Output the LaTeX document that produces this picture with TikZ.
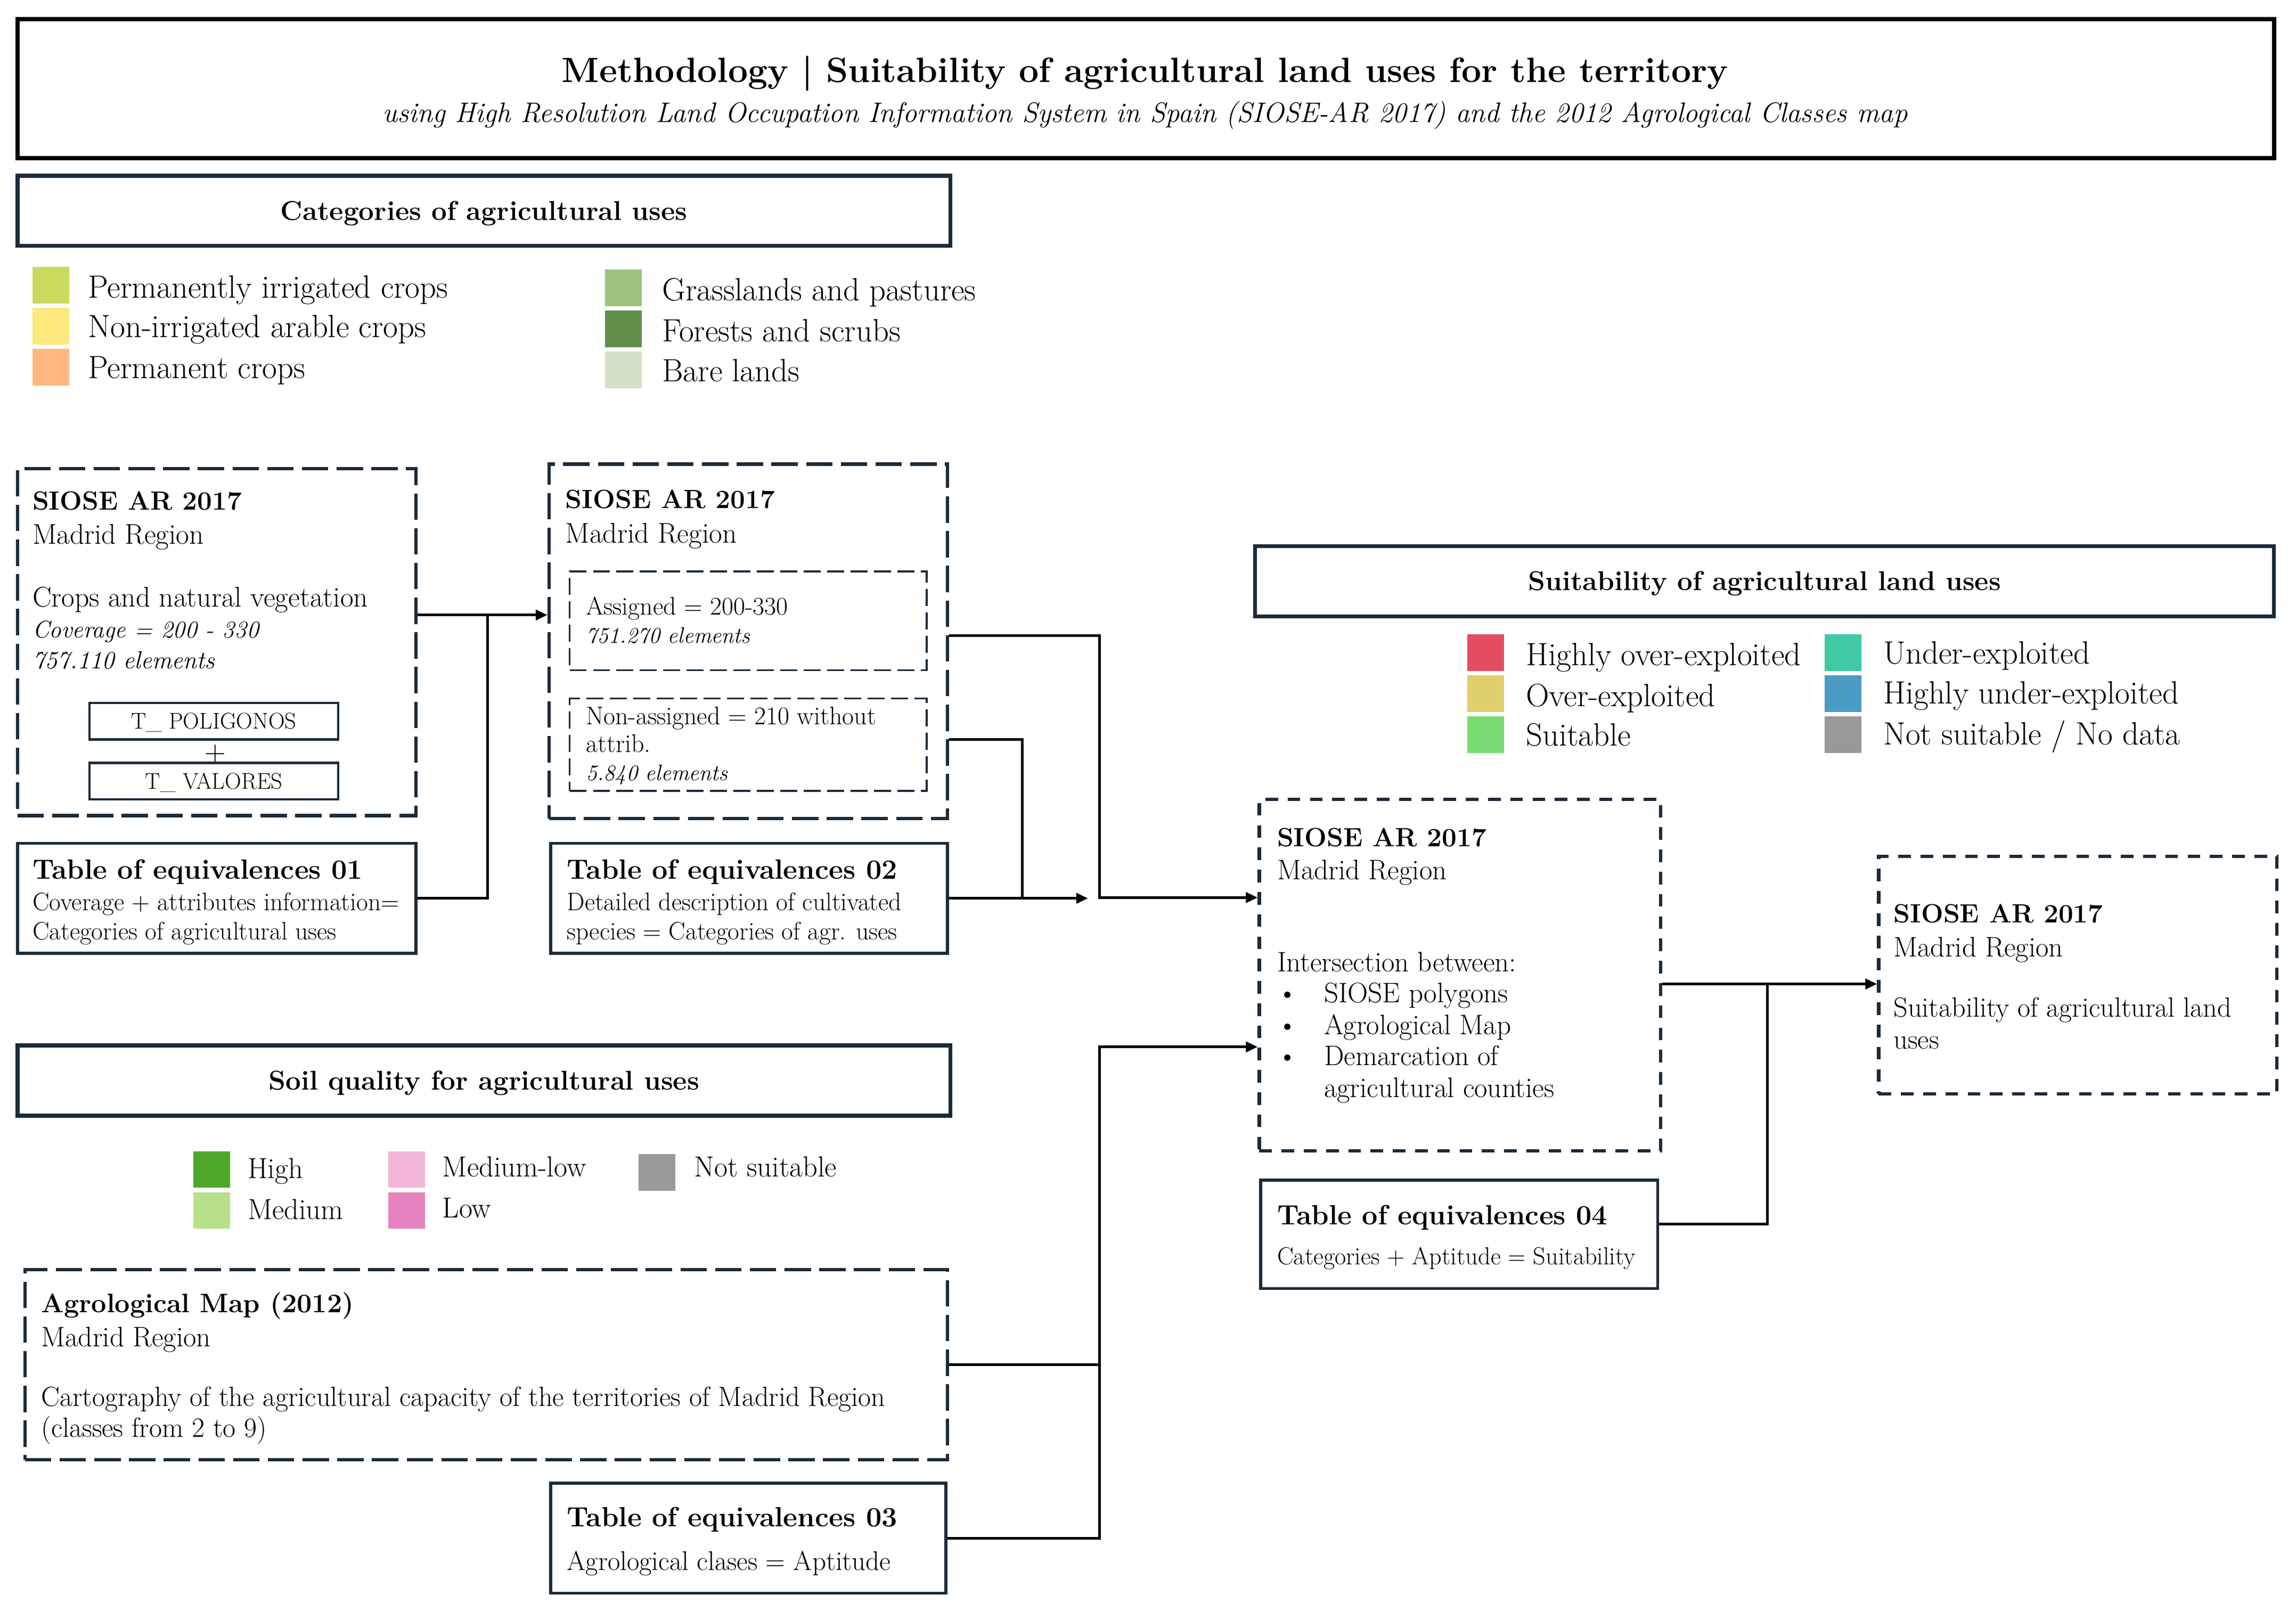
\documentclass[tikz,border=0pt]{standalone}
\usetikzlibrary{arrows.meta,calc}
\definecolor{navy}{HTML}{1B2B3A}
\definecolor{cPI}{HTML}{C9DA5E}
\definecolor{cNI}{HTML}{FDE97C}
\definecolor{cPC}{HTML}{FCB87F}
\definecolor{cGP}{HTML}{A0C27F}
\definecolor{cFS}{HTML}{5F8F49}
\definecolor{cBL}{HTML}{D5E0C8}
\definecolor{cHO}{HTML}{E34C63}
\definecolor{cOE}{HTML}{DDD06B}
\definecolor{cSU}{HTML}{7BDB72}
\definecolor{cUE}{HTML}{40C9A2}
\definecolor{cHU}{HTML}{4A9CC5}
\definecolor{cNS}{HTML}{999999}
\definecolor{cHI}{HTML}{4DA82A}
\definecolor{cME}{HTML}{B8E08A}
\definecolor{cML}{HTML}{F1B6DA}
\definecolor{cLO}{HTML}{E681BF}
\newcommand{\setfs}[1]{\fontsize{#1}{#1}\selectfont}
\tikzset{
  txt/.style={anchor=base west, inner sep=0pt, font=\setfs{#1}, yshift={-0.34*#1pt}},
  txtb/.style={anchor=base west, inner sep=0pt, font=\setfs{#1}\bfseries, yshift={-0.34*#1pt}},
  txti/.style={anchor=base west, inner sep=0pt, font=\setfs{#1}\itshape, yshift={-0.34*#1pt}},
  txtc/.style={anchor=base, inner sep=0pt, font=\setfs{#1}, yshift={-0.34*#1pt}},
  dbox/.style={draw=navy, line width=2.3pt, dash pattern=on 18pt off 5.7pt, inner sep=0pt},
  dboxs/.style={draw=navy, line width=2.2pt, dash pattern=on 8.6pt off 6.6pt, inner sep=0pt},
  ibox/.style={draw=navy, line width=1.4pt, dash pattern=on 11.5pt off 4.5pt, inner sep=0pt},
  sbox/.style={draw=navy, line width=2pt, inner sep=0pt},
  hbox/.style={draw=navy, line width=2.6pt, inner sep=0pt},
  conn/.style={line width=1.8pt, draw=black},
  arr/.style={conn, -{Triangle[length=8pt,width=7pt]}},
  sq/.style={minimum width=25pt, minimum height=25pt, inner sep=0pt, anchor=north west, fill=#1}
}
\begin{document}
\begin{tikzpicture}[x=1pt,y=-1pt]
\useasboundingbox[fill=white] (0,0) rectangle (1568,1100);

% Title
\node[draw=black, line width=3pt, minimum width=1541pt, minimum height=95pt] (title) at (782.5,60.5) {};
\node[txtc=24, font=\setfs{24}\bfseries] (tt) at (782,48) {Methodology \textbar\ Suitability of agricultural land uses for the territory};
\node[txtc=19.2, font=\setfs{19.2}\itshape] (ts) at (782,77) {using High Resolution Land Occupation Information System in Spain (SIOSE-AR 2017) and the 2012 Agrological Classes map};

% Categories header and legend
\node[hbox, minimum width=637pt, minimum height=48pt] (hcat) at (330.5,144) {};
\node[txtc=18.6, font=\setfs{18.6}\bfseries] (hcatt) at (330.5,144) {Categories of agricultural uses};
\node[sq=cPI] (q1) at (22,182) {};
\node[sq=cNI] (q2) at (22,210) {};
\node[sq=cPC] (q3) at (22,238) {};
\node[sq=cGP] (q4) at (413,184) {};
\node[sq=cFS] (q5) at (413,212) {};
\node[sq=cBL] (q6) at (413,240) {};
\node[txt=22] (l1) at (60,196) {Permanently irrigated crops};
\node[txt=22] (l2) at (60,223) {Non-irrigated arable crops};
\node[txt=22] (l3) at (60,251) {Permanent crops};
\node[txt=22] (l4) at (452,198) {Grasslands and pastures};
\node[txt=22] (l5) at (452,226) {Forests and scrubs};
\node[txt=22] (l6) at (452,253) {Bare lands};

% SIOSE box 1
\node[dbox, minimum width=272pt, minimum height=237pt] (s1) at (148,438.5) {};
\node[txtb=18] (s1a) at (22,342) {SIOSE AR 2017};
\node[txt=19.5] (s1b) at (22,365) {Madrid Region};
\node[txt=19.5] (s1c) at (22,408) {Crops and natural vegetation};
\node[txti=16.5] (s1d) at (22,430) {Coverage = 200 - 330};
\node[txti=17] (s1e) at (22,451) {757.110 elements};
\node[sbox, line width=1.6pt, minimum width=170pt, minimum height=25pt] (tp) at (146,492.5) {};
\node[txtc=15.5] (tpt) at (146,492.5) {T\_ POLIGONOS};
\node[txtc=20] (plus) at (147,513) {+};
\node[sbox, line width=1.6pt, minimum width=170pt, minimum height=25pt] (tv) at (146,533.5) {};
\node[txtc=15.5] (tvt) at (146,533.5) {T\_ VALORES};

% SIOSE box 2
\node[dbox, minimum width=272pt, minimum height=242pt] (s2) at (511,438) {};
\node[txtb=18] (s2a) at (386,341) {SIOSE AR 2017};
\node[txt=19.5] (s2b) at (386,364) {Madrid Region};
\node[ibox, minimum width=244pt, minimum height=67.5pt] (sa) at (511,424) {};
\node[txt=17.4] (saa) at (400,414) {Assigned = 200-330};
\node[txti=15.3] (sab) at (400,434) {751.270 elements};
\node[ibox, minimum width=244pt, minimum height=63pt] (sn) at (511,508.5) {};
\node[txt=17.4] (sna) at (400,489) {Non-assigned = 210 without};
\node[txt=17.4] (snb) at (400,508) {attrib.};
\node[txti=15.3] (snc) at (400,528) {5.840 elements};

% Tables 01, 02
\node[sbox, minimum width=272pt, minimum height=75pt] (e1) at (148,613.5) {};
\node[txtb=19] (e1a) at (22,594) {Table of equivalences 01};
\node[txt=17.2] (e1b) at (22,616) {Coverage + attributes information=};
\node[txt=17.2] (e1c) at (22,636) {Categories of agricultural uses};
\node[sbox, minimum width=271pt, minimum height=75pt] (e2) at (511.5,613.5) {};
\node[txtb=19] (e2a) at (387,594) {Table of equivalences 02};
\node[txt=17.2] (e2b) at (387,616) {Detailed description of cultivated};
\node[txt=17.2] (e2c) at (387,636) {species = Categories of agr. uses};

% Suitability header and legend
\node[hbox, minimum width=696pt, minimum height=48pt] (hsu) at (1205,397) {};
\node[txtc=18.6, font=\setfs{18.6}\bfseries] (hsut) at (1205,397) {Suitability of agricultural land uses};
\node[sq=cHO] (u1) at (1002,433) {};
\node[sq=cOE] (u2) at (1002,461) {};
\node[sq=cSU] (u3) at (1002,489) {};
\node[sq=cUE] (u4) at (1246,433) {};
\node[sq=cHU] (u5) at (1246,461) {};
\node[sq=cNS] (u6) at (1246,489) {};
\node[txt=22] (m1) at (1042,447) {Highly over-exploited};
\node[txt=22] (m2) at (1042,475) {Over-exploited};
\node[txt=22] (m3) at (1042,502) {Suitable};
\node[txt=22] (m4) at (1286,446) {Under-exploited};
\node[txt=22] (m5) at (1286,473) {Highly under-exploited};
\node[txt=22] (m6) at (1286,501) {Not suitable / No data};

% Central SIOSE box
\node[dboxs, minimum width=274pt, minimum height=240pt] (c1) at (997,666) {};
\node[txtb=18] (c1a) at (872,572) {SIOSE AR 2017};
\node[txt=19.3] (c1b) at (872,594) {Madrid Region};
\node[txt=19.3] (c1c) at (872,657) {Intersection between:};
\node[txt=19.3] (b1) at (872,678) {\textbullet};
\node[txt=19.3] (b2) at (872,700) {\textbullet};
\node[txt=19.3] (b3) at (872,721) {\textbullet};
\node[txt=19.3] (c1d) at (904,678) {SIOSE polygons};
\node[txt=19.3] (c1e) at (904,700) {Agrological Map};
\node[txt=19.3] (c1f) at (904,721) {Demarcation of};
\node[txt=19.3] (c1g) at (904,743) {agricultural counties};

% Table 04
\node[sbox, minimum width=271pt, minimum height=74pt] (e4) at (996.5,843) {};
\node[txtb=19] (e4a) at (872,830) {Table of equivalences 04};
\node[txt=16.8] (e4b) at (872,858) {Categories + Aptitude = Suitability};

% Result box
\node[dboxs, minimum width=272pt, minimum height=162pt] (r1) at (1419,666) {};
\node[txtb=18] (r1a) at (1293,624) {SIOSE AR 2017};
\node[txt=19.3] (r1b) at (1293,647) {Madrid Region};
\node[txt=19] (r1c) at (1293,688) {Suitability of agricultural land};
\node[txt=19] (r1d) at (1293,710) {uses};

% Soil header and legend
\node[hbox, minimum width=637pt, minimum height=48pt] (hso) at (330.5,738) {};
\node[txtc=18.6, font=\setfs{18.6}\bfseries] (hsot) at (330.5,738) {Soil quality for agricultural uses};
\node[sq=cHI] (v1) at (132,786) {};
\node[sq=cME] (v2) at (132,814) {};
\node[sq=cML] (v3) at (265,786) {};
\node[sq=cLO] (v4) at (265,814) {};
\node[sq=cNS] (v5) at (436,788) {};
\node[txt=19.8] (n1) at (169,798) {High};
\node[txt=19.8] (n2) at (169,826) {Medium};
\node[txt=19.8] (n3) at (302,797) {Medium-low};
\node[txt=19.8] (n4) at (302,825) {Low};
\node[txt=19.8] (n5) at (474,797) {Not suitable};

% Agrological map
\node[dbox, minimum width=630pt, minimum height=130pt] (a1) at (332,932) {};
\node[txtb=18.3] (a1a) at (28,890) {Agrological Map (2012)};
\node[txt=19.3] (a1b) at (28,913) {Madrid Region};
\node[txt=19] (a1c) at (28,954) {Cartography of the agricultural capacity of the territories of Madrid Region};
\node[txt=19] (a1d) at (28,975) {(classes from 2 to 9)};

% Table 03
\node[sbox, minimum width=270pt, minimum height=75pt] (e3) at (511,1050.5) {};
\node[txtb=19] (e3a) at (387,1036) {Table of equivalences 03};
\node[txt=18.5] (e3b) at (387,1066) {Agrological clases = Aptitude};

% Connectors
\coordinate (ya) at (333,420);
\coordinate (jb) at (751,434);
\coordinate (jc) at (751,613);
\coordinate (jd) at (698,505);
\coordinate (je) at (743,613.5);
\coordinate (jf) at (1207,672);
\coordinate (jg) at (1207,836);
\coordinate (jh) at (751,715);

\draw[arr] (s1.east |- ya) -- (s2.west |- ya);
\draw[conn] (e1.east) -| (ya);
\draw[arr] (s2.east |- jb) -| (jc) -- (c1.west |- jc);
\draw[conn] (s2.east |- jd) -- (jd) -- (jd |- e2.east);
\draw[arr] (e2.east) -- (je);
\draw[arr] (c1.east |- jf) -- (r1.west |- jf);
\draw[conn] (e4.east |- jg) -- (jg) -- (jf);
\draw[arr] (a1.east) -| (jh) -- (c1.west |- jh);
\draw[conn] (e3.east) -| (a1.east -| jh);
\end{tikzpicture}
\end{document}
